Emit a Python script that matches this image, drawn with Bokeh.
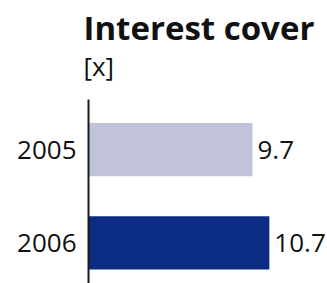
from bokeh.plotting import figure
from bokeh.models import Range1d, FixedTicker, Title, ColumnDataSource
from bokeh.core.properties import value
from bokeh.embed import file_html
from bokeh.resources import INLINE

years = ["2005", "2006"]
cover = [9.7, 10.7]
labels = ["9.7", "10.7"]
colors = ["#C1C3DD", "#0C2B82"]
positions = [2, 1]

FONT = "Open Sans"

src = ColumnDataSource(dict(y=positions, v=cover, t=labels, c=colors))

p = figure(width=327, height=283, output_backend="svg", toolbar_location=None,
           x_range=Range1d(0, 14.14), y_range=Range1d(0.565, 2.537),
           min_border_left=88, min_border_right=0, min_border_top=0,
           min_border_bottom=0, x_axis_type=None)
p.outline_line_color = None
p.grid.visible = False
p.background_fill_color = "white"
p.border_fill_color = "white"

p.hbar(y="y", right="v", left=0, height=0.57, color="c", line_color=None, source=src)
p.text(x="v", y="y", text="t", x_offset=5, text_baseline="middle", text_align="left",
       text_font=value(FONT), text_font_size="26px", text_color="#111111", source=src)

ax = p.yaxis[0]
ax.ticker = FixedTicker(ticks=positions)
ax.major_label_overrides = {pos: yr for pos, yr in zip(positions, years)}
ax.major_tick_line_color = None
ax.minor_tick_line_color = None
ax.axis_line_color = "#1a1a1a"
ax.axis_line_width = 2
ax.major_label_standoff = 6
ax.major_label_text_font = FONT
ax.major_label_text_font_size = "26px"
ax.major_label_text_color = "#111111"

p.title.text = "Interest cover"
p.title.text_font = FONT
p.title.text_font_size = "33px"
p.title.text_font_style = "bold"
p.title.text_color = "#111111"
p.title.align = "left"
p.title.offset = -5
p.title.standoff = 5

# spacer between the unit line and the plot area (nearest the frame)
p.add_layout(Title(text=" ", text_font=FONT, text_font_size="10px",
                   align="left", standoff=6), "above")
p.add_layout(Title(text="[x]", text_font=FONT, text_font_size="26px",
                   text_font_style="normal", text_color="#111111",
                   align="left", offset=-5, standoff=-13), "above")

open("out.html", "w").write(file_html(p, INLINE))
